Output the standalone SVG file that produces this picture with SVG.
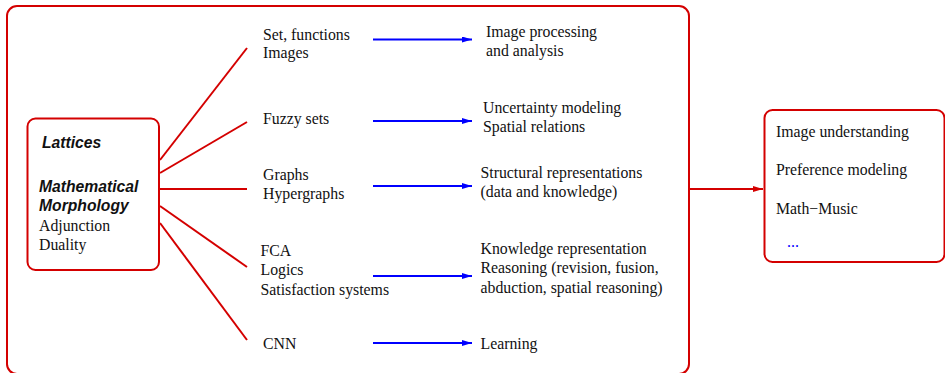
<svg xmlns="http://www.w3.org/2000/svg" width="945" height="373" viewBox="0 0 945 373">
<defs>
<style>
.box{fill:none;stroke:#d40000;stroke-width:2}
.red{fill:none;stroke:#d40000;stroke-width:2}
.blue{fill:none;stroke:#0000ff;stroke-width:2}
.t{font-family:"Liberation Serif","Times New Roman",serif;font-size:15.8px;fill:#111}
.b{font-family:"Liberation Sans",Arial,sans-serif;font-size:15.7px;font-weight:bold;font-style:italic;fill:#111}
.dots{font-family:"Liberation Serif",serif;font-size:15.8px;fill:#0000ff}
</style>
<marker id="ab" viewBox="0 0 10 6" refX="10" refY="3" markerWidth="5" markerHeight="3" orient="auto" markerUnits="strokeWidth">
<path d="M0,0 L10,3 L0,6 z" fill="#0000ff"/>
</marker>
<marker id="ar" viewBox="0 0 10 6" refX="10" refY="3" markerWidth="5" markerHeight="3" orient="auto" markerUnits="strokeWidth">
<path d="M0,0 L10,3 L0,6 z" fill="#d40000"/>
</marker>
</defs>
<rect width="945" height="373" fill="#ffffff"/>
<g id="outer">
<rect class="box" x="7" y="6" width="682" height="368" rx="10"/>
</g>
<g id="center">
<rect class="box" x="27.5" y="118.5" width="131.5" height="151.5" rx="8"/>
<text class="b" x="42" y="148">Lattices</text>
<text class="b" x="39" y="192">Mathematical</text>
<text class="b" x="39" y="211">Morphology</text>
<text class="t" x="39" y="231">Adjunction</text>
<text class="t" x="39" y="250">Duality</text>
</g>
<g id="sets">
<text class="t" x="263" y="40">Set, functions</text>
<text class="t" x="263" y="58">Images</text>
</g>
<g id="fuzzy">
<text class="t" x="263" y="124">Fuzzy sets</text>
</g>
<g id="graphs">
<text class="t" x="263" y="180">Graphs</text>
<text class="t" x="263" y="199">Hypergraphs</text>
</g>
<g id="logics">
<text class="t" x="260.5" y="256">FCA</text>
<text class="t" x="260.5" y="275">Logics</text>
<text class="t" x="260.5" y="295">Satisfaction systems</text>
</g>
<g id="cnn">
<text class="t" x="263" y="349">CNN</text>
</g>
<g id="imgproc">
<text class="t" x="486" y="37">Image processing</text>
<text class="t" x="486" y="56">and analysis</text>
</g>
<g id="uncert">
<text class="t" x="483" y="113">Uncertainty modeling</text>
<text class="t" x="483" y="132">Spatial relations</text>
</g>
<g id="struct">
<text class="t" x="480.5" y="178">Structural representations</text>
<text class="t" x="480.5" y="197">(data and knowledge)</text>
</g>
<g id="knowledge">
<text class="t" x="480.5" y="254">Knowledge representation</text>
<text class="t" x="480.5" y="273">Reasoning (revision, fusion,</text>
<text class="t" x="480.5" y="293">abduction, spatial reasoning)</text>
</g>
<g id="learning">
<text class="t" x="480.5" y="349">Learning</text>
</g>
<g id="apps">
<rect class="box" x="764.5" y="110" width="180" height="152" rx="8"/>
<text class="t" x="776" y="137">Image understanding</text>
<text class="t" x="776" y="175">Preference modeling</text>
<text class="t" x="776" y="214">Math−Music</text>
<text class="dots" x="787" y="247">...</text>
</g>
<g id="connectors">
<line class="red" x1="160" y1="160" x2="247" y2="48"/>
<line class="red" x1="160" y1="173" x2="247" y2="122"/>
<line class="red" x1="160" y1="189" x2="247" y2="189"/>
<line class="red" x1="160" y1="206" x2="247" y2="267"/>
<line class="red" x1="160" y1="223" x2="247" y2="340"/>
<line class="blue" x1="373" y1="39.5" x2="472" y2="39.5" marker-end="url(#ab)"/>
<line class="blue" x1="373" y1="121" x2="472" y2="121" marker-end="url(#ab)"/>
<line class="blue" x1="373" y1="186" x2="472" y2="186" marker-end="url(#ab)"/>
<line class="blue" x1="373" y1="276" x2="472" y2="276" marker-end="url(#ab)"/>
<line class="blue" x1="373" y1="343" x2="472" y2="343" marker-end="url(#ab)"/>
<line class="red" x1="689" y1="189" x2="763" y2="189" marker-end="url(#ar)"/>
</g>
</svg>
